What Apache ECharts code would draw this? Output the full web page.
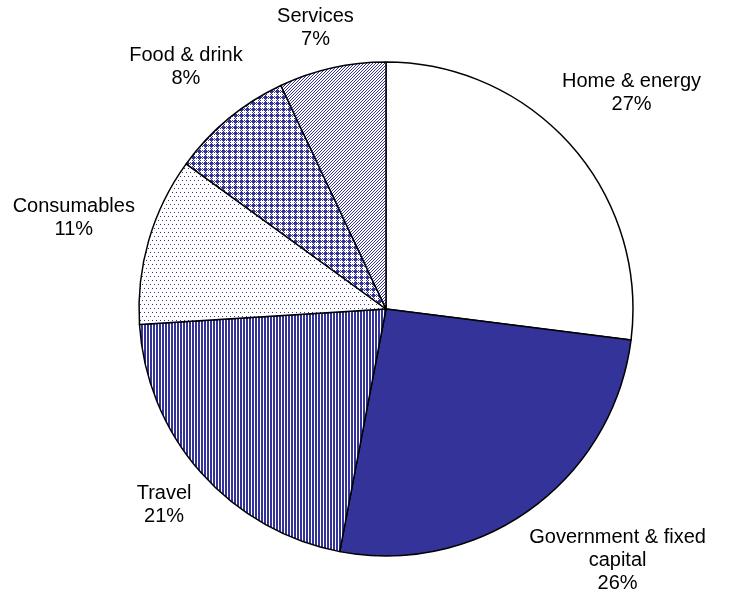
<!DOCTYPE html>
<html>
<head>
<meta charset="utf-8">
<title>Emissions by category</title>
<script src="https://cdn.jsdelivr.net/npm/echarts@6/dist/echarts.min.js"></script>
<style>
  html, body { margin: 0; padding: 0; background: #fff; }
  #chart { width: 730px; height: 600px; }
</style>
</head>
<body>
<div id="chart"></div>
<script>
// Category names and their percentage shares, clockwise from 12 o'clock
const categories = ['Home & energy', 'Government & fixed capital', 'Travel', 'Consumables', 'Food & drink', 'Services'];
const shares = [27, 26, 21, 11, 8, 7];

const BLUE = '#333399';
const W = 730, H = 600;
const CX = 386, CY = 309, R = 247;
const GAP = 13;      // space between the pie rim and a label box
const MARGIN = 5;    // keep labels inside the canvas

// Small repeating bitmap fills
function pattern(w, h, on) {
  const c = document.createElement('canvas');
  c.width = w; c.height = h;
  const ctx = c.getContext('2d');
  ctx.fillStyle = '#fff';
  ctx.fillRect(0, 0, w, h);
  ctx.fillStyle = BLUE;
  for (let y = 0; y < h; y++) {
    for (let x = 0; x < w; x++) {
      if (on(x, y)) ctx.fillRect(x, y, 1, 1);
    }
  }
  return { image: c, repeat: 'repeat' };
}

const fills = [
  '#ffffff',                                                   // plain white
  BLUE,                                                        // solid
  pattern(3, 1, (x) => x < 2),                                 // vertical stripes
  pattern(4, 8, (x, y) => (x === 0 && y === 0) || (x === 2 && y === 4)), // dots
  pattern(6, 6, (x, y) => {                                    // plaid / checker
    const a = x < 3, b = y < 3;
    if (a && b) return true;
    if (a !== b) return (x + y) % 2 === 0;
    return false;
  }),
  pattern(3, 3, (x, y) => (x + y) % 3 === 0)                   // fine diagonal
];

const total = shares.reduce((s, v) => s + v, 0);

// Middle angle of slice i (radians, maths convention), pie starts at 90° clockwise
function midAngle(i) {
  let before = 0;
  for (let j = 0; j < i; j++) before += shares[j];
  return (90 - 360 * (before + shares[i] / 2) / total) * Math.PI / 180;
}

// Wrap long names onto two lines at a word boundary
function wrapName(name, maxChars) {
  if (name.length <= maxChars) return name;
  const cut = name.lastIndexOf(' ', maxChars);
  return cut > 0 ? name.slice(0, cut) + '\n' + name.slice(cut + 1) : name;
}

const data = categories.map((name, i) => ({
  name: name,
  value: shares[i],
  itemStyle: { color: fills[i] }
}));

const chart = echarts.init(document.getElementById('chart'), null, { renderer: 'canvas' });

chart.setOption({
  backgroundColor: '#ffffff',
  animation: false,
  series: [{
    type: 'pie',
    center: [CX, CY],
    radius: R,
    startAngle: 90,
    clockwise: true,
    avoidLabelOverlap: false,
    emphasis: { disabled: true },
    data: data,
    itemStyle: { borderColor: '#000000', borderWidth: 1.5 },
    label: {
      show: true,
      position: 'outside',
      color: '#000000',
      fontFamily: '"Liberation Sans", Arial, sans-serif',
      fontSize: 20,
      lineHeight: 23,
      align: 'center',
      formatter: (p) => wrapName(p.name, 20) + '\n' + p.value + '%'
    },
    labelLine: { show: false },
    // Place each label box just outside the rim along its slice's middle angle
    labelLayout: (params) => {
      const a = midAngle(params.dataIndex);
      const ux = Math.cos(a), uy = -Math.sin(a);
      const w = params.labelRect.width, h = params.labelRect.height;
      const d = R + GAP + Math.abs(ux) * w / 2 + Math.abs(uy) * h / 2;
      let x = CX + ux * d, y = CY + uy * d;
      const minX = MARGIN + w / 2, maxX = W - MARGIN - w / 2;
      const minY = MARGIN + h / 2, maxY = H - MARGIN - h / 2;
      const cy = Math.min(Math.max(y, minY), maxY);
      if (cy !== y) {
        // slide sideways so the box stays clear of the rim
        y = cy;
        const near = Math.max(0, Math.abs(y - CY) - h / 2);
        const dx = Math.sqrt(Math.max(0, (R + GAP) * (R + GAP) - near * near));
        x = CX + Math.sign(ux) * (dx + w / 2);
      }
      const cx = Math.min(Math.max(x, minX), maxX);
      if (cx !== x) {
        x = cx;
        const near = Math.max(0, Math.abs(x - CX) - w / 2);
        const dy = Math.sqrt(Math.max(0, (R + GAP) * (R + GAP) - near * near));
        y = CY + Math.sign(uy) * (dy + h / 2);
      }
      return { x: x, y: y, align: 'center', verticalAlign: 'middle' };
    }
  }]
});
</script>
</body>
</html>
